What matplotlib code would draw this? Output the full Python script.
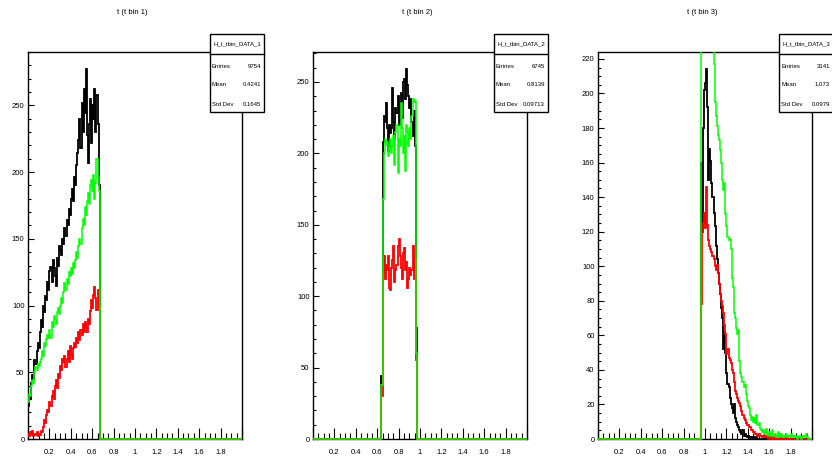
import matplotlib

matplotlib.use("Agg")
import matplotlib.pyplot as plt
import numpy as np
from matplotlib.lines import Line2D
from matplotlib.patches import Rectangle
from matplotlib.ticker import MultipleLocator

plt.rcParams["font.family"] = ["Liberation Sans", "DejaVu Sans"]

# histogram binning: 200 bins of 0.01 between 0 and 2
bin_width = 0.01
n_bins = 200

# --- t bin 1 (values start at t = 0.00) ---
p1_start = 0.00
p1_black = [25, 32, 30, 42, 48, 45, 59, 56, 66, 72, 68, 80, 89, 84, 100, 95, 107, 104, 118, 112,
            126, 129, 118, 134, 128, 122, 115, 136, 130, 145, 142, 138, 150, 146, 158, 152, 164, 160,
            172, 168, 180, 187, 178, 196, 190, 205, 214, 224, 240, 218, 252, 230, 262, 244, 277, 228,
            207, 236, 255, 222, 250, 240, 262, 230, 258, 236, 190]
p1_red = [4, 2, 5, 3, 6, 2, 4, 3, 5, 2, 4, 3, 6, 5, 9, 14, 12, 18, 22, 20, 28, 25, 32, 36, 30, 40,
          44, 38, 49, 46, 55, 52, 60, 58, 62, 54, 60, 66, 58, 70, 64, 60, 68, 72, 69, 76, 72, 80, 74,
          82, 78, 86, 80, 88, 84, 80, 90, 86, 96, 104, 98, 108, 114, 106, 97, 112, 100]
p1_green = [28, 34, 32, 40, 44, 42, 50, 54, 52, 56, 55, 58, 60, 66, 62, 72, 70, 75, 78, 76, 82, 76,
            88, 84, 92, 90, 86, 95, 98, 94, 100, 106, 102, 110, 117, 112, 120, 116, 125, 122, 128,
            124, 132, 128, 134, 140, 136, 145, 150, 146, 158, 165, 160, 174, 168, 178, 184, 176, 190,
            194, 186, 198, 180, 192, 210, 196, 186]

# --- t bin 2 (values start at t = 0.64) ---
p2_start = 0.64
p2_black = [44, 208, 226, 222, 235, 218, 202, 220, 214, 218, 246, 222, 210, 232, 228, 240, 220, 236,
            242, 225, 250, 252, 238, 259, 248, 240, 232, 238, 222, 212, 230, 205, 78]
p2_red = [30, 116, 128, 112, 122, 118, 128, 106, 104, 120, 125, 135, 110, 118, 122, 135, 140, 128,
          120, 112, 130, 134, 118, 124, 106, 112, 120, 115, 118, 135, 112, 126, 55]
p2_green = [38, 168, 200, 210, 206, 208, 198, 204, 210, 200, 205, 212, 192, 215, 220, 186, 210, 205,
            235, 218, 200, 212, 188, 220, 215, 205, 218, 210, 226, 238, 236, 237, 60]

# --- t bin 3 (values start at t = 0.96) ---
p3_start = 0.96
p3_black = [160, 120, 180, 202, 206, 214, 192, 150, 168, 161, 148, 140, 131, 123, 112, 104, 96, 90,
            84, 76, 70, 52, 62, 50, 38, 32, 30, 24, 20, 18, 15, 20, 12, 10, 8, 7, 5, 4, 3, 5, 2, 3,
            2, 1, 2, 1, 0, 1, 1, 0, 1, 0, 1]
p3_red = [78, 120, 125, 131, 122, 146, 124, 115, 112, 110, 108, 106, 104, 100, 98, 101, 96, 90, 84,
          80, 77, 73, 66, 61, 49, 52, 47, 46, 44, 40, 38, 33, 28, 26, 24, 22, 21, 19, 16, 14, 12, 11,
          9, 8, 8, 7, 7, 5, 5, 4, 4, 3, 3, 2, 3, 2, 2, 1, 2, 1, 1, 2, 1, 0, 1, 1, 0, 1, 0, 1, 0, 0,
          0, 1, 0, 0, 1, 0, 0, 0, 0, 1]
p3_green = [235, 260, 228, 250, 240, 255, 232, 245, 230, 250, 226, 240, 217, 195, 187, 181, 176, 173,
            167, 160, 150, 144, 148, 130, 123, 117, 115, 116, 110, 93, 88, 73, 70, 64, 61, 63, 45, 38,
            36, 33, 30, 31, 26, 22, 19, 18, 14, 11, 13, 10, 12, 9, 14, 8, 9, 6, 5, 4, 5, 3, 4, 6, 3,
            2, 4, 3, 2, 5, 2, 3, 1, 2, 4, 1, 2, 3, 1, 2, 1, 2, 3, 1, 2, 1, 3, 1, 2, 1, 2, 1, 0, 1, 2,
            1, 0, 1, 2, 1, 3, 1]

titles = ["t (t bin 1)", "t (t bin 2)", "t (t bin 3)"]
stat_names = ["H_t_tbin_DATA_1", "H_t_tbin_DATA_2", "H_t_tbin_DATA_3"]
entries = ["9754", "6745", "3141"]
means = ["0.4241", "0.8139", "1.073"]
std_devs = ["0.1645", "0.09713", "0.0979"]
y_max = [290, 271, 224]
y_major = [50, 50, 20]
y_minor = [10, 10, 5]


def fill_bins(start, values):
    full = np.zeros(n_bins)
    i0 = int(round(start / bin_width))
    full[i0:i0 + len(values)] = values
    return full


panels = [
    (p1_start, p1_black, p1_red, p1_green),
    (p2_start, p2_black, p2_red, p2_green),
    (p3_start, p3_black, p3_red, p3_green),
]

edges = np.linspace(0, 2, n_bins + 1)

W, H = 832, 457
fig = plt.figure(figsize=(W / 100, H / 100), dpi=100)


def fx(px):
    return px / W


def fy(py):
    return 1 - py / H


ax_lefts = [28, 313, 598]
ax_w, ax_top, ax_bot = 214, 52, 439
box_lefts = [210, 494, 779]
box_w, box_top, box_bot, box_sep = 54, 34, 112, 54

for i, (start, black, red, green) in enumerate(panels):
    ax = fig.add_axes([fx(ax_lefts[i]), fy(ax_bot), fx(ax_w), (ax_bot - ax_top) / H])
    # clip at the top of the frame only, so the zero level stays fully visible
    clip = Rectangle((0, -0.02), 1, 1.02, transform=ax.transAxes, fill=False, visible=False)
    ax.add_patch(clip)
    for vals, col, lw in [(black, "#000000", 1.3), (red, "#ff0000", 1.3), (green, "#00ff00", 1.1)]:
        st = ax.stairs(fill_bins(start, vals), edges, color=col, lw=lw, baseline=None, zorder=3)
        st.set_clip_path(clip)
    ax.set_xlim(0, 2)
    ax.set_ylim(0, y_max[i])

    ax.xaxis.set_major_locator(MultipleLocator(0.2))
    ax.xaxis.set_minor_locator(MultipleLocator(0.05))
    ax.yaxis.set_major_locator(MultipleLocator(y_major[i]))
    ax.yaxis.set_minor_locator(MultipleLocator(y_minor[i]))
    xt = np.round(np.arange(0, 2.01, 0.2), 1)
    ax.set_xticks(xt)
    ax.set_xticklabels(["" if v in (0, 2) else f"{v:g}" for v in xt])
    ax.tick_params(axis="x", which="major", direction="in", length=8, width=0.8, pad=7.5,
                   labelsize=5.5, top=False)
    ax.tick_params(axis="x", which="minor", direction="in", length=4, width=0.8, top=False)
    ax.tick_params(axis="y", which="major", direction="in", length=4.5, width=0.8, pad=2.5,
                   labelsize=5.5, right=False)
    ax.tick_params(axis="y", which="minor", direction="in", length=2.3, width=0.8, right=False)
    for sp in ax.spines.values():
        sp.set_linewidth(1.0)

    # panel title
    fig.text(fx(ax_lefts[i] + ax_w / 2 - 3), fy(12), titles[i], ha="center", va="center",
             fontsize=5.5)

    # ROOT-like statistics box
    bx = box_lefts[i]
    fig.add_artist(Rectangle((fx(bx), fy(box_bot)), fx(box_w), (box_bot - box_top) / H,
                             transform=fig.transFigure, facecolor="white", edgecolor="black",
                             lw=1.0, zorder=10))
    fig.add_artist(Line2D([fx(bx), fx(bx + box_w)], [fy(box_sep), fy(box_sep)],
                          transform=fig.transFigure, color="black", lw=1.0, zorder=11))
    fig.text(fx(bx + box_w / 2), fy(44), stat_names[i], ha="center", va="center",
             fontsize=4.3, zorder=12)
    for row_y, name, val in [(66, "Entries", entries[i]), (85, "Mean", means[i]),
                             (104, "Std Dev", std_devs[i])]:
        fig.text(fx(bx + 2), fy(row_y), name, ha="left", va="center", fontsize=4.3, zorder=12)
        fig.text(fx(bx + box_w - 3), fy(row_y), val, ha="right", va="center", fontsize=4.3,
                 zorder=12)

fig.savefig("out.png", dpi=100)
